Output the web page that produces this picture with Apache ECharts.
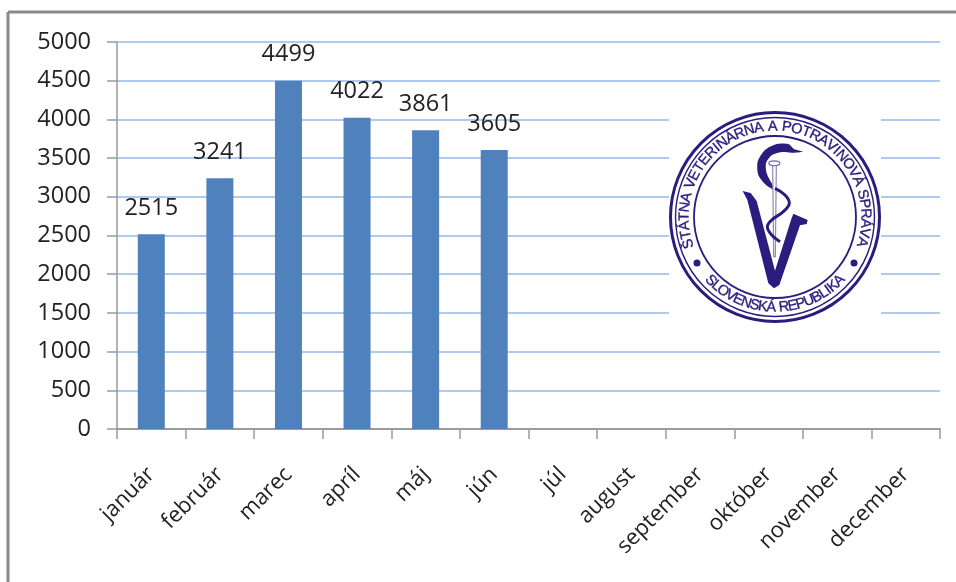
<!DOCTYPE html>
<html>
<head>
<meta charset="utf-8">
<style>
  html, body { margin: 0; padding: 0; background: #fff; }
  #chart { width: 956px; height: 582px; }
</style>
<script src="https://cdn.jsdelivr.net/npm/echarts@6/dist/echarts.min.js"></script>
</head>
<body>
<div id="chart"></div>
<script>
const months = ["január", "február", "marec", "apríl", "máj", "jún", "júl", "august", "september", "október", "november", "december"];
const counts = [2515, 3241, 4499, 4022, 3861, 3605];

const font = "Open Sans";
const navy = "#2b1c7e";
const cx = 775, cy = 217;
const sealFont = "14.5px 'Liberation Sans Narrow', 'Liberation Sans'";

// zoomed crop coords -> page coords
const pt = (x, y) => [660 + x / 3, 120 + y / 3];
const pts = list => list.map(p => pt(p[0], p[1]));

// lay the letters out by their real widths so the spacing stays even on the arc
function arcText(str, r, fromDeg, toDeg, flip) {
  const ctx = document.createElement("canvas").getContext("2d");
  ctx.font = sealFont;
  const chars = Array.from(str);
  const widths = chars.map(ch => ctx.measureText(ch).width + 1.2);
  const total = widths.reduce((a, b) => a + b, 0);
  let run = 0;
  return chars.map((ch, i) => {
    const deg = fromDeg + (toDeg - fromDeg) * (run + widths[i] / 2) / total;
    run += widths[i];
    const a = deg * Math.PI / 180;
    return {
      type: "text",
      x: cx + r * Math.sin(a),
      y: cy - r * Math.cos(a),
      rotation: flip ? -(a + Math.PI) : -a,
      z: 12,
      style: { text: ch, fill: navy, stroke: navy, lineWidth: 0.35, font: sealFont, align: "center", verticalAlign: "middle" }
    };
  });
}

function ring(r, w) {
  return { type: "circle", z: 11, shape: { cx, cy, r }, style: { fill: "none", stroke: navy, lineWidth: w } };
}

const logo = [
  { type: "rect", z: 10, shape: { x: 669, y: 105, width: 212, height: 225 }, style: { fill: "#fff" } },
  ring(104.5, 3), ring(99.5, 1.4), ring(81, 1.8),
  { type: "circle", z: 11, shape: { cx: 697, cy: 263, r: 3.5 }, style: { fill: navy } },
  { type: "circle", z: 11, shape: { cx: 854, cy: 263, r: 3.5 }, style: { fill: navy } },
  ...arcText("ŠTÁTNA VETERINÁRNA A POTRAVINOVÁ SPRÁVA", 90.5, -110, 109, false),
  ...arcText("SLOVENSKÁ REPUBLIKA", 90.5, 228, 132, true),
  {
    type: "polygon", z: 12,
    shape: { points: pts([[248, 213], [272, 219], [290, 243], [345, 452], [393, 300], [400, 281], [443, 300], [440, 312], [420, 316], [358, 495], [342, 505], [325, 490], [262, 240]]) },
    style: { fill: navy }
  },
  {
    type: "polygon", z: 13,
    shape: { points: pts([[338, 135], [349, 135], [346, 410], [341, 410]]) },
    style: { fill: "#fff", stroke: "#8f88b8", lineWidth: 1.2 }
  },
  {
    type: "polygon", z: 12,
    shape: { smooth: 0.25, points: pts([[428, 95], [402, 87], [385, 72], [350, 72], [315, 90], [293, 125], [295, 165], [318, 195], [348, 212], [335, 190], [320, 160], [318, 130], [335, 106], [365, 96], [395, 98]]) },
    style: { fill: navy }
  },
  { type: "ellipse", z: 13, shape: { cx: pt(343, 130)[0], cy: pt(343, 130)[1], rx: 5.5, ry: 2.4 }, style: { fill: "#fff", stroke: "#6f68a8", lineWidth: 1.2 } },
  {
    type: "polyline", z: 14,
    shape: { smooth: 0.4, points: pts([[345, 205], [375, 225], [388, 250], [370, 275], [335, 300], [322, 320], [335, 345], [360, 365]]) },
    style: { fill: "none", stroke: navy, lineWidth: 3 }
  }
];

const frame = [
  { type: "line", z: 9, shape: { x1: 8, y1: 12, x2: 956, y2: 12 }, style: { stroke: "#8a8a8a", lineWidth: 3 } },
  { type: "line", z: 9, shape: { x1: 8, y1: 12, x2: 8, y2: 582 }, style: { stroke: "#8a8a8a", lineWidth: 3 } }
];

const c = echarts.init(document.getElementById("chart"));
c.setOption({
  animation: false,
  backgroundColor: "#fff",
  grid: { left: 117, right: 16, top: 42, bottom: 153 },
  xAxis: {
    type: "category",
    data: months,
    axisLine: { lineStyle: { color: "#9a9a9a", width: 2 } },
    axisTick: { show: true, alignWithLabel: false, length: 10, lineStyle: { color: "#9a9a9a", width: 1.5 } },
    axisLabel: { rotate: 45, margin: 42, interval: 0, color: "#222", fontFamily: font, fontSize: 22 }
  },
  yAxis: {
    type: "value",
    min: 0,
    max: 5000,
    interval: 500,
    axisLine: { show: true, lineStyle: { color: "#9a9a9a", width: 1.5 } },
    axisTick: { show: true, length: 10, lineStyle: { color: "#9a9a9a", width: 1.5 } },
    axisLabel: { margin: 26, color: "#222", fontFamily: font, fontSize: 23.5, formatter: v => String(v) },
    splitLine: { lineStyle: { color: "#93b8ea", width: 1.5 } }
  },
  series: [{
    type: "bar",
    data: counts,
    barWidth: 27,
    itemStyle: { color: "#4f81bd" },
    label: { show: true, position: "top", distance: 14, color: "#222", fontFamily: font, fontSize: 23.5, formatter: p => String(p.value) }
  }],
  graphic: { elements: [...frame, ...logo] }
});
window.addEventListener("resize", () => c.resize());
</script>
</body>
</html>
